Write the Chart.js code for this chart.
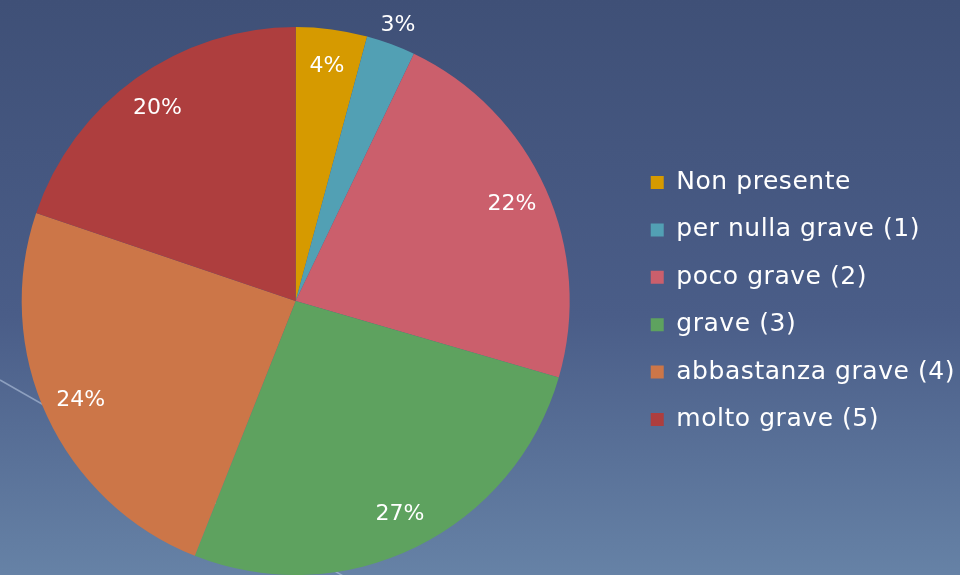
<!DOCTYPE html>
<html>
<head>
<meta charset="utf-8">
<script src="https://cdn.jsdelivr.net/npm/chart.js@4"></script>
<style>
  html, body { margin: 0; padding: 0; }
  body { width: 960px; height: 575px; overflow: hidden; position: relative; background: #4a5d88; }
  #myChart { position: absolute; left: -37px; top: 0; }
</style>
</head>
<body>
<canvas id="myChart" width="1002" height="575"></canvas>
<script>
const labels = ['Non presente', 'per nulla grave (1)', 'poco grave (2)', 'grave (3)', 'abbastanza grave (4)', 'molto grave (5)'];
const values = [4.2, 2.9, 22.4, 26.5, 24.2, 19.8];
const colors = ['#d69a00', '#52a0b4', '#cb5f6c', '#5ea25f', '#cc7648', '#ae3e3e'];

const FONT = '"DejaVu Sans", sans-serif';
const SHIFT = 37; // canvas sits 37px left of the page edge

// wider letters, closer to the original's geometric face
const spacing = {
  id: 'spacing',
  beforeLayout(chart) { chart.ctx.letterSpacing = '0.55px'; },
  beforeDraw(chart) { chart.ctx.letterSpacing = '0.55px'; }
};

// slide-like background: vertical gradient plus the faint diagonal line
const background = {
  id: 'background',
  beforeDraw(chart) {
    const { ctx, width, height } = chart;
    ctx.save();
    let g = ctx.createLinearGradient(0, 0, 0, height);
    g.addColorStop(0, '#3f5077');
    g.addColorStop(0.55, '#4a5d88');
    g.addColorStop(1, '#6682a6');
    ctx.fillStyle = g;
    ctx.fillRect(0, 0, width, height);
    ctx.strokeStyle = 'rgba(190, 205, 230, 0.55)';
    ctx.lineWidth = 1.5;
    ctx.beginPath();
    ctx.moveTo(SHIFT, 380);
    ctx.lineTo(SHIFT + 345, 577);
    ctx.stroke();
    ctx.restore();
  }
};

// percentage labels on the slices
const sliceLabels = {
  id: 'sliceLabels',
  afterDatasetsDraw(chart) {
    const { ctx } = chart;
    const meta = chart.getDatasetMeta(0);
    ctx.save();
    ctx.letterSpacing = '0px';
    ctx.font = '22px ' + FONT;
    ctx.fillStyle = '#ffffff';
    ctx.textAlign = 'center';
    ctx.textBaseline = 'middle';
    meta.data.forEach((arc, i) => {
      const { x, y, startAngle, endAngle, outerRadius } = arc.getProps(['x', 'y', 'startAngle', 'endAngle', 'outerRadius'], true);
      const mid = (startAngle + endAngle) / 2;
      const r = values[i] < 3.5 ? outerRadius + 20 : outerRadius * 0.865;
      ctx.fillText(Math.round(values[i]) + '%', x + Math.cos(mid) * r, y + Math.sin(mid) * r);
    });
    ctx.restore();
  }
};

let ctx = document.getElementById('myChart').getContext('2d');
let chart = new Chart(ctx, {
  type: 'pie',
  data: {
    labels: labels,
    datasets: [
      {
        data: values,
        backgroundColor: colors,
        borderWidth: 0
      }
    ]
  },
  options: {
    responsive: false,
    animation: false,
    layout: { padding: { left: 0, top: 27, bottom: 0, right: 0 } },
    plugins: {
      legend: {
        position: 'right',
        labels: {
          color: '#ffffff',
          font: { family: FONT, size: 25 },
          boxWidth: 13,
          boxHeight: 13,
          padding: 22.4
        }
      },
      tooltip: { enabled: false }
    }
  },
  plugins: [spacing, background, sliceLabels]
});
</script>
</body>
</html>
